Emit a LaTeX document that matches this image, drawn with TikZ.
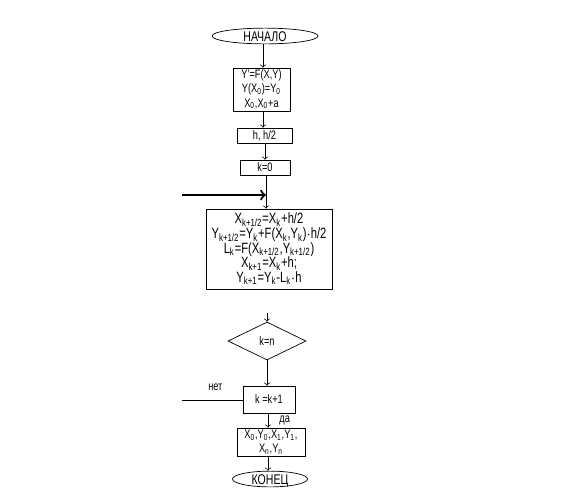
\documentclass[tikz,border=0pt]{standalone}
\usepackage{fontspec}
\setmainfont{Liberation Sans}[FakeStretch=0.75]
\usetikzlibrary{shapes.geometric}
\newcommand{\ix}[1]{\textsubscript{#1}}

\begin{document}
\begin{tikzpicture}[x=0.02cm, y=-0.02cm, font=\fontsize{7}{8}\selectfont]
		\tikzstyle{block} = [draw, shape = rectangle, inner sep = 0pt, align = center]
		\tikzstyle{term} = [draw, shape = ellipse, inner sep = 0pt, text height = 1.2ex, text depth = 0pt, font = \fontsize{8}{9}\selectfont]
		\tikzstyle{decision} = [draw, shape = diamond, inner sep = 0pt]
		\useasboundingbox (0, 0) rectangle (577, 495);
	% Nodos
		\node[term, minimum width = 2.12cm, minimum height = 0.28cm] (start) at (265, 36) {НАЧАЛО};
		\node[block, minimum width = 1.14cm, minimum height = 0.86cm] (ode) at (261.5, 89.5) {Y'=F(X,Y)\\Y(X\ix{0})=Y\ix{0}\\X\ix{0},X\ix{0}+a};
		\node[block, minimum width = 1.1cm, minimum height = 0.3cm] (step) at (264.5, 135.5) {h, h/2};
		\node[block, minimum width = 1cm, minimum height = 0.3cm] (init) at (265, 167.5) {k=0};
		\node[block, minimum width = 2.52cm, minimum height = 1.6cm, font = \fontsize{8.5}{8.3}\selectfont] (calc) at (269, 249) {X\ix{k+1/2}=X\ix{k}+h/2\\
			Y\ix{k+1/2}=Y\ix{k}+F(X\ix{k},Y\ix{k})$\cdot$h/2\\
			L\ix{k}=F(X\ix{k+1/2},Y\ix{k+1/2})\\
			X\ix{k+1}=X\ix{k}+h;\\
			Y\ix{k+1}=Y\ix{k}-L\ix{k}$\cdot$h};
		\node[decision, minimum width = 1.56cm, minimum height = 0.76cm] (cond) at (267, 341) {k=n};
		\node[block, minimum width = 1.04cm, minimum height = 0.54cm] (incr) at (269, 399.5) {k =k+1};
		\node[block, minimum width = 1.36cm, minimum height = 0.56cm] (out) at (271, 442) {X\ix{0},Y\ix{0},X\ix{1},Y\ix{1},\\X\ix{n},Y\ix{n}};
		\node[term, minimum width = 1.5cm, minimum height = 0.26cm] (stop) at (270, 479) {КОНЕЦ};

		\coordinate (loop) at (182, 195);
		\coordinate (join) at (266, 195);
		\coordinate (back) at (182, 400);
		\coordinate (in) at (267, 313);

	% Enlaces
		\draw[->] (start.south -| 263, 0) -- (ode.north -| 263, 0);
		\draw[->] (ode.south -| 263, 0) -- (step.north -| 263, 0);
		\draw[->] (step.south -| 265, 0) -- (init.north -| 265, 0);
		\draw[->] (init.south -| join) -- (calc.north -| join);
		\draw[->, line width = 1.2pt] (loop) -- (join);
		\draw[->] (in) -- (cond.north);
		\draw[->] (cond.south) -- (incr.north -| cond.south);
		\draw (back) -- (incr.west |- back) node[pos = 0.55, above = 2pt] {нет};
		\draw[->] (incr.south -| 268, 0) -- (out.north -| 268, 0) node[midway, right = 3pt] {да};
		\draw[->] (out.south -| 268, 0) -- (stop.north -| 268, 0);
	\end{tikzpicture}
\end{document}
